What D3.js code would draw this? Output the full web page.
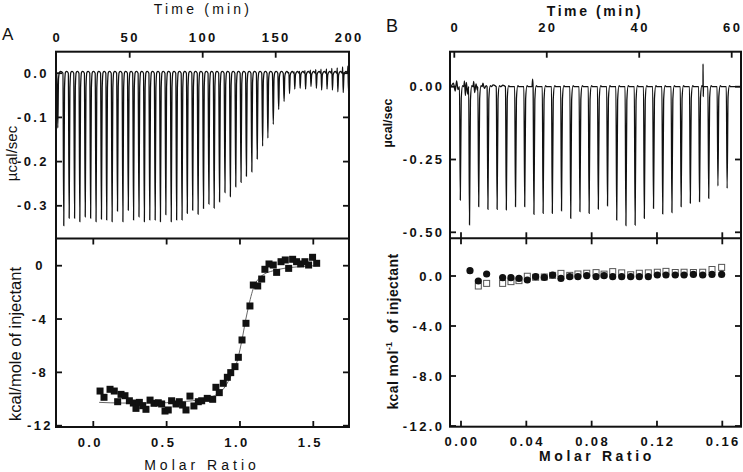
<!DOCTYPE html>
<html><head><meta charset="utf-8">
<script src="https://cdn.jsdelivr.net/npm/d3@7"></script>
<style>
body{margin:0;background:#fff}
svg{display:block}
text{font-family:"Liberation Sans",Arial,sans-serif;fill:#111}
</style></head><body>
<svg id="c" width="743" height="472"></svg>
<script>
// ---------- tick values ----------
const timeTicksA = [0, 50, 100, 150, 200];
const heatTicksA = [0.0, -0.1, -0.2, -0.3];
const ratioTicksA = [0.0, 0.5, 1.0, 1.5];
const enthTicksA = [0, -4, -8, -12];
const timeTicksB = [0, 20, 40, 60];
const heatTicksB = [0.00, -0.25, -0.50];
const ratioTicksB = [0.00, 0.04, 0.08, 0.12, 0.16];
const enthTicksB = [0.0, -4.0, -8.0, -12.0];

// ---------- panel A : raw thermogram ----------
const injTimeA = [0.4, 4.5, 8.2, 11.9, 15.5, 19.2, 22.9, 26.6, 30.3, 33.9, 37.6, 41.3, 45.0, 48.7, 52.3, 56.0, 59.7, 63.4, 67.1, 70.7, 74.4, 78.1, 81.8, 85.5, 89.1, 92.8, 96.5, 100.2, 103.9, 107.5, 111.2, 114.9, 118.6, 122.3, 125.9, 129.6, 133.3, 137.0, 140.7, 144.3, 148.0, 151.7, 155.4, 159.1, 162.7, 166.4, 170.1, 173.8, 177.5, 181.1, 184.8, 188.5, 192.2, 195.9, 199.5];
const peakA = [-0.124, -0.345, -0.328, -0.328, -0.336, -0.325, -0.328, -0.336, -0.330, -0.332, -0.336, -0.312, -0.336, -0.310, -0.332, -0.325, -0.336, -0.332, -0.332, -0.336, -0.320, -0.336, -0.332,
  -0.332, -0.317, -0.310, -0.319, -0.306, -0.296, -0.305, -0.291, -0.270, -0.279, -0.257, -0.247, -0.233, -0.223, -0.194, -0.165, -0.147, -0.116, -0.082, -0.064, -0.046, -0.036, -0.034, -0.036, -0.030, -0.034, -0.038, -0.036, -0.038, -0.042, -0.044, -0.040];
const reboundA = [0,0,0,0,0,0,0,0,0,0, 0,0,0,0,0,0,0,0,0,0, 0,0,0,0,0,0,0,0,0,0, 0,0,0,0,0,0,0,0,0,0, 0,0,0,
  0.002, 0.003, 0.004, 0.006, 0.007, 0.008, 0.009, 0.010, 0.011, 0.012, 0.014, 0.016];

// ---------- panel A : integrated heats ----------
const ratioA = [0.046,0.073,0.114,0.143,0.166,0.189,0.216,0.246,0.273,0.291,0.314,0.337,0.359,0.387,0.414,0.443,0.466,0.489,0.511,0.534,0.564,0.586,0.609,0.632,0.659,0.686,0.716,0.739,0.777,0.814,0.836,0.859,0.886,0.914,0.937,0.966,0.989,1.014,1.041,1.068,1.091,1.121,1.148,1.170,1.198,1.227,1.250,1.280,1.309,1.332,1.359,1.386,1.414,1.443,1.468,1.495,1.523];
const enthA = [-9.40,-9.87,-9.27,-9.40,-10.2,-9.65,-9.75,-10.13,-10.3,-10.7,-10.25,-10.5,-10.77,-10.08,-10.32,-10.28,-10.37,-10.9,-10.82,-10.13,-10.37,-10.2,-10.45,-10.82,-9.78,-10.52,-10.2,-10.13,-9.95,-10.02,-9.12,-9.52,-8.82,-8.37,-8.02,-7.57,-6.87,-5.57,-4.32,-3.02,-1.45,-1.52,-1.0,-0.27,0.13,0.05,-0.5,0.3,0.43,-0.2,0.48,0.3,0.13,0.3,0.05,0.63,0.18];
const fitRatioA = [0.04, 0.2, 0.4, 0.6, 0.75, 0.85, 0.89, 0.95, 0.98, 1.0, 1.02, 1.04, 1.06, 1.08, 1.10, 1.13, 1.17, 1.22, 1.3, 1.4, 1.52];
const fitEnthA = [-10.25, -10.3, -10.3, -10.2, -10.0, -9.6, -9.2, -8.0, -7.2, -6.3, -5.2, -4.0, -3.0, -2.1, -1.45, -0.95, -0.6, -0.4, -0.2, -0.08, 0.0];

// ---------- panel B : raw thermogram ----------
const injTimeB = [1.2, 3.19, 5.18, 7.17, 9.16, 11.15, 13.14, 15.13, 17.12, 19.11, 21.1, 23.09, 25.08, 27.07, 29.06, 31.05, 33.04, 35.03, 37.02, 39.01, 41.0, 42.99, 44.98, 46.97, 48.96, 50.95, 52.94, 54.93, 56.92, 58.91];
const peakB = [-0.389,-0.474,-0.412,-0.421,-0.421,-0.423,-0.412,-0.412,-0.438,-0.435,-0.435,-0.426,-0.452,-0.429,-0.435,-0.420,-0.409,-0.458,-0.477,-0.475,-0.452,-0.418,-0.437,-0.432,-0.412,-0.400,-0.395,-0.383,-0.341,-0.349];
const noiseTimeB = [-0.8, -0.2, 0.2, 0.5, 0.8, 2.2, 2.4, 2.6, 2.9, 4.2, 4.4, 4.7, 5.0, 6.2, 6.5, 6.9, 8.4, 10.5, 16.8, 16.95, 53.75, 53.8, 53.85, 53.9];
const noiseB = [0.0, 0.012, -0.015, 0.02, -0.01, 0.02, -0.03, 0.015, -0.025, 0.018, -0.02, 0.01, -0.012, 0.012, -0.006, 0.004, 0.006, 0.005, 0.0, 0.026, 0.0, 0.078, -0.034, 0.0];

// ---------- panel B : integrated heats ----------
const ratioCircB = [0.0055,0.0106,0.0157,0.0255,0.0306,0.0355,0.0406,0.0457,0.051,0.0561,0.0612,0.0666,0.0716,0.077,0.0827,0.0876,0.0929,0.0984,0.1039,0.1092,0.1147,0.1202,0.1255,0.1312,0.1366,0.1423,0.148,0.1537,0.1596];
const circB = [0.43,-0.40,0.16,-0.13,-0.13,-0.19,-0.32,-0.05,-0.11,0.08,-0.19,-0.05,-0.05,0.03,-0.05,0.03,-0.05,-0.05,-0.05,-0.05,-0.05,0.08,0.08,0.08,0.08,0.13,0.08,0.13,0.13];
const ratioSqB = [0.0106,0.0157,0.0255,0.0306,0.0355,0.0406,0.0457,0.051,0.0561,0.0612,0.0666,0.0716,0.077,0.0827,0.0876,0.0929,0.0984,0.1039,0.1092,0.1147,0.1202,0.1255,0.1312,0.1366,0.1423,0.148,0.1537,0.1596];
const sqB = [-0.80,-0.59,-0.59,-0.45,-0.37,-0.02,-0.10,-0.08,0.05,0.21,0.05,0.16,0.22,0.27,0.15,0.35,0.25,0.10,0.22,0.25,0.30,0.37,0.28,0.30,0.28,0.30,0.52,0.69];

// ================= drawing =================
const svg = d3.select('#c');
const fA = {l: 56, r: 349, t: 51.7, m: 238.5, b: 427};
const fB = {l: 450, r: 741, t: 51.7, m: 238.3, b: 426.7};

const xTA = d3.scaleLinear([0, 200], [56.7, 348.7]);
const yHA = d3.scaleLinear([0, -0.3], [73.2, 205.8]);
const xRA = d3.scaleLinear([0, 1.5], [93.3, 313.3]);
const yEA = d3.scaleLinear([0, -12], [265.7, 425.7]);
const xTB = d3.scaleLinear([0, 60], [454.3, 731.7]);
const yHB = d3.scaleLinear([0, -0.5], [86.7, 232.3]);
const xRB = d3.scaleLinear([0, 0.16], [461, 722.3]);
const yEB = d3.scaleLinear([0, -12], [276, 426]);

const defs = svg.append('defs');
function clip(id, f, y0, y1) {
  defs.append('clipPath').attr('id', id).append('rect')
    .attr('x', f.l + 1).attr('y', y0 + 1).attr('width', f.r - f.l - 2).attr('height', y1 - y0 - 2);
}
clip('cA1', fA, fA.t, fA.m); clip('cA2', fA, fA.m, fA.b);
clip('cB1', fB, fB.t, fB.m); clip('cB2', fB, fB.m, fB.b);

// --- thermogram A ---
const ptsA = [[-2, 0]];
injTimeA.forEach((t, i) => {
  const h = peakA[i], u = reboundA[i];
  ptsA.push([t - 0.25, 0]);
  if (u > 0) ptsA.push([t - 0.05, u]);
  ptsA.push([t + 0.35, h]);
  ptsA.push([t + 0.85, h * 0.1]);
  ptsA.push([t + 1.5, 0.002]);
  ptsA.push([t + 2.3, 0.004]);
});
ptsA.push([205, 0]);
const lineA = d3.line().x(d => xTA(d[0])).y(d => yHA(d[1])).curve(d3.curveMonotoneX);
svg.append('path').attr('clip-path', 'url(#cA1)').attr('d', lineA(ptsA))
  .attr('fill', 'none').attr('stroke', '#111').attr('stroke-width', 1.3);

// --- thermogram B ---
let ptsB = [];
injTimeB.forEach((t, i) => {
  const h = peakB[i];
  ptsB.push([t - 0.08, 0]);
  ptsB.push([t + 0.1, h]);
  ptsB.push([t + 0.3, h * 0.1]);
  ptsB.push([t + 0.6, 0.004]);
  ptsB.push([t + 0.85, 0]);
});
noiseTimeB.forEach((t, i) => ptsB.push([t, noiseB[i]]));
ptsB.push([-1.5, 0]); ptsB.push([63, 0]);
ptsB.sort((a, b) => a[0] - b[0]);
const lineB = d3.line().x(d => xTB(d[0])).y(d => yHB(d[1])).curve(d3.curveMonotoneX);
svg.append('path').attr('clip-path', 'url(#cB1)').attr('d', lineB(ptsB))
  .attr('fill', 'none').attr('stroke', '#111').attr('stroke-width', 1.3);

// --- integrated A ---
const fitLine = d3.line().x(d => xRA(d[0])).y(d => yEA(d[1])).curve(d3.curveMonotoneX);
svg.append('path').attr('clip-path', 'url(#cA2)')
  .attr('d', fitLine(fitRatioA.map((r, i) => [r, fitEnthA[i]])))
  .attr('fill', 'none').attr('stroke', '#666').attr('stroke-width', 1);
svg.append('g').attr('clip-path', 'url(#cA2)').selectAll('rect').data(ratioA).join('rect')
  .attr('x', (d) => xRA(d) - 3.5).attr('y', (d, i) => yEA(enthA[i]) - 3.5)
  .attr('width', 7).attr('height', 7).attr('fill', '#111');

// --- integrated B ---
svg.append('g').attr('clip-path', 'url(#cB2)').selectAll('rect').data(ratioSqB).join('rect')
  .attr('x', d => xRB(d) - 3).attr('y', (d, i) => yEB(sqB[i]) - 3)
  .attr('width', 6).attr('height', 6).attr('fill', '#fff').attr('stroke', '#555').attr('stroke-width', 1);
svg.append('g').attr('clip-path', 'url(#cB2)').selectAll('circle').data(ratioCircB).join('circle')
  .attr('cx', d => xRB(d)).attr('cy', (d, i) => yEB(circB[i])).attr('r', 3.6).attr('fill', '#111');

// --- frames ---
[fA, fB].forEach(f => {
  svg.append('rect').attr('x', f.l).attr('y', f.t).attr('width', f.r - f.l).attr('height', f.b - f.t)
    .attr('fill', 'none').attr('stroke', '#111').attr('stroke-width', 2);
  svg.append('line').attr('x1', f.l).attr('x2', f.r).attr('y1', f.m).attr('y2', f.m)
    .attr('stroke', '#111').attr('stroke-width', 2);
});

// --- ticks ---
const TL = 6;
function vTicks(vals, scale, y, dir) {
  svg.append('g').selectAll('line').data(vals).join('line')
    .attr('x1', d => scale(d)).attr('x2', d => scale(d)).attr('y1', y).attr('y2', y + dir * TL)
    .attr('stroke', '#111').attr('stroke-width', 1.8);
}
function hTicks(vals, scale, x, dir) {
  svg.append('g').selectAll('line').data(vals).join('line')
    .attr('y1', d => scale(d)).attr('y2', d => scale(d)).attr('x1', x).attr('x2', x + dir * TL)
    .attr('stroke', '#111').attr('stroke-width', 1.8);
}
vTicks(timeTicksA.slice(1, -1), xTA, fA.t, 1);
hTicks(heatTicksA, yHA, fA.l, 1); hTicks(heatTicksA, yHA, fA.r, -1);
vTicks(ratioTicksA, xRA, fA.m, 1); vTicks(ratioTicksA, xRA, fA.b, -1);
hTicks(enthTicksA, yEA, fA.l, 1); hTicks(enthTicksA, yEA, fA.r, -1);

vTicks(timeTicksB, xTB, fB.t, 1);
hTicks(heatTicksB, yHB, fB.l, 1); hTicks(heatTicksB, yHB, fB.r, -1);
vTicks(ratioTicksB, xRB, fB.m, -1); vTicks(ratioTicksB, xRB, fB.m, 1); vTicks(ratioTicksB, xRB, fB.b, -1);
hTicks(enthTicksB, yEB, fB.l, 1); hTicks(enthTicksB, yEB, fB.r, -1);

// --- tick labels ---
function labels(vals, fmt, xf, yf, anchor, opts) {
  svg.append('g').selectAll('text').data(vals).join('text')
    .attr('x', xf).attr('y', yf).attr('text-anchor', anchor)
    .attr('font-size', opts.size).attr('font-weight', opts.weight)
    .attr('letter-spacing', opts.ls)
    .text(fmt);
}
const tk = {size: 13, weight: 'bold', ls: 2.4};
labels(timeTicksA, d => String(d), d => xTA(d) + 0.5, 41.5, 'middle', tk);
labels(heatTicksA, d => d.toFixed(1), 49, d => yHA(d) + 4.5, 'end', tk);
labels(enthTicksA, d => String(d), 40, d => yEA(d) + 4.5, 'middle', tk);
labels(ratioTicksA, d => d.toFixed(1), d => xRA(d) - 3, 446.5, 'middle', tk);

labels(timeTicksB, d => String(d), d => xTB(d) + 1, 32, 'middle', tk);
labels(heatTicksB, d => d.toFixed(2), 444.5, d => yHB(d) + 4.5, 'end', tk);
labels(enthTicksB, d => d.toFixed(1), 444.5, d => yEB(d) + 4.5, 'end', tk);
labels(ratioTicksB, d => d.toFixed(2), d => xRB(d) + 1, 446, 'middle', tk);

// --- titles ---
function txt(x, y, s, size, weight, ls, rot) {
  const t = svg.append('text').attr('x', x).attr('y', y).attr('text-anchor', 'middle')
    .attr('font-size', size).attr('font-weight', weight).attr('letter-spacing', ls).text(s);
  if (rot) t.attr('transform', `rotate(-90,${x},${y})`);
  return t;
}
txt(203, 14, 'Time (min)', 14, 'normal', 3.2);
txt(595, 16, 'Time (min)', 14, 'bold', 2.6);
svg.append('text').attr('x', 2).attr('y', 40).attr('font-size', 17).text('A');
svg.append('text').attr('x', 386).attr('y', 32).attr('font-size', 18).text('B');
txt(202, 470, 'Molar Ratio', 14, 'normal', 4);
txt(597, 461, 'Molar Ratio', 14, 'bold', 3.6);
txt(17, 153.5, 'µcal/sec', 15, 'normal', 0, true);
txt(21, 344, 'kcal/mole of injectant', 16.5, 'normal', 0, true);
txt(392, 123, 'µcal/sec', 12.5, 'bold', 0, true);
const yl = svg.append('text').attr('x', 398).attr('y', 331.5).attr('text-anchor', 'middle')
  .attr('font-size', 14).attr('font-weight', 'bold').attr('letter-spacing', 0.4)
  .attr('transform', 'rotate(-90,398,331.5)');
yl.append('tspan').text('kcal mol');
yl.append('tspan').attr('dy', -6).attr('font-size', 9).text('-1');
yl.append('tspan').attr('dy', 6).text('  of injectant').attr('xml:space', 'preserve');
</script>
</body></html>
